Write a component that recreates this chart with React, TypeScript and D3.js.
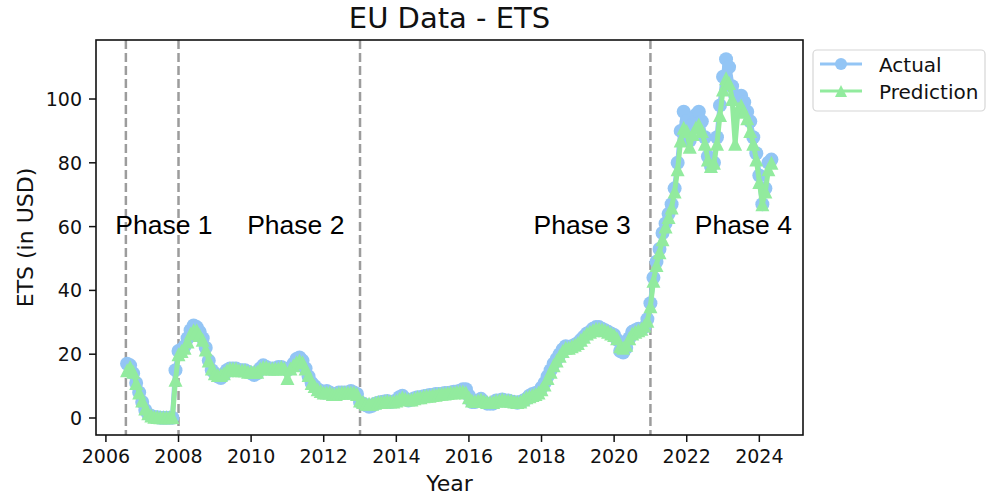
import React from 'react';
import * as d3 from 'd3';

const W = 986;
const H = 498;

const title = 'EU Data - ETS';
const xLabel = 'Year';
const yLabel = 'ETS (in USD)';
const xTicks = [2006, 2008, 2010, 2012, 2014, 2016, 2018, 2020, 2022, 2024];
const yTicks = [0, 20, 40, 60, 80, 100];
const seriesNames = ['Actual', 'Prediction'];

// monthly observations starting August 2006
const firstYear = 2006;
const firstMonth = 8;

const actual = [
  17, 16.5, 14, 11, 8,
  5, 2.5, 1.2, 0.6, 0.3, 0.2, 0.1, 0.1, 0.1, 0.1, 0.1, 15,
  21, 21.5, 22.5, 25, 27.5, 29, 28.5, 27, 25, 22, 18, 15,
  14, 13, 12.5, 13.5, 15, 15.5, 15.5, 15.5, 15, 15, 15, 14.5,
  14, 13.5, 14, 15.5, 16.5, 16, 15.5, 15.5, 15.5, 16, 16, 15.5,
  15, 15.5, 17, 18.5, 19, 18, 15.5, 13, 11, 10, 9, 8.5,
  8, 8.5, 8, 7.5, 7.5, 8, 8, 8, 8, 8.5, 8, 7.5,
  5, 4.5, 4, 3.5, 3.8, 4.5, 4.8, 5, 5.2, 5.3, 5, 5.2,
  5.5, 6.5, 7, 6, 5.5, 5.8, 6.2, 6.5, 6.5, 6.8, 7, 7.2,
  7.2, 7.5, 7.5, 7.6, 7.8, 7.8, 8, 8.2, 8.3, 8.5, 9, 9,
  7, 5, 5, 5.5, 6, 5, 4.5, 4.5, 4.5, 5.5, 5.5, 5.8,
  5.5, 5.5, 5.2, 5, 4.8, 5, 5.5, 6, 7, 7.5, 7.8, 8.2,
  9.5, 11, 13, 15, 17, 18.5, 20, 21.5, 22.5, 22, 22.5, 23,
  23.5, 24.5, 25.5, 26.5, 27, 28, 28.5, 28.5, 28, 27.5, 27, 26.5,
  26, 24.5, 21, 20.5, 22, 25, 27, 27.5, 28, 28, 28.5, 31,
  36, 44, 49, 53, 58, 61, 64, 67, 72, 80, 90, 96,
  93, 87, 92, 95, 96, 93, 88, 82, 79, 80, 88, 98,
  107, 112.5, 110, 104, 101, 100, 101, 99, 96, 93, 88, 83,
  76, 67, 72, 80, 81,
];

const prediction = [
  15, 16, 14.5, 11, 8,
  5.5, 3, 1.5, 0.8, 0.4, 0.3, 0.2, 0.2, 0.2, 0.2, 0.3, 12,
  20, 21, 22, 24, 26.5, 27.5, 27.5, 26, 24.5, 21.5, 18, 15.5,
  14, 13.5, 13.5, 14, 15, 15.5, 15.5, 15.5, 15, 15, 15, 14.5,
  14.5, 14.5, 14.5, 15.5, 16, 16, 15.5, 15.5, 15.5, 15.5, 16, 15.5,
  12.5, 15.5, 16.5, 17.5, 18, 17.5, 15.5, 13.5, 11, 10, 9, 8.5,
  8, 8, 8, 7.5, 7.5, 7.8, 8, 8, 8, 8, 8, 7.5,
  5.5, 5, 4.5, 4.5, 4.5, 4.8, 5, 5, 5.2, 5.3, 5.2, 5.2,
  5.5, 6, 6.5, 6, 5.8, 5.8, 6.2, 6.5, 6.5, 6.8, 7, 7,
  7.2, 7.3, 7.5, 7.6, 7.7, 7.8, 8, 8, 8.2, 8.3, 8.3, 8,
  6.5, 5.5, 5.3, 5.5, 5.8, 5.3, 5, 5, 5, 5.5, 5.5, 5.8,
  5.6, 5.5, 5.4, 5.2, 5, 5.2, 5.8, 6.5, 6.8, 7.2, 7.5, 8,
  9, 10.5, 12.5, 14.5, 16.5, 18, 19.5, 21, 22, 22, 22.5, 23,
  23.5, 24.5, 25.5, 26.5, 27, 27.5, 28, 28, 27.8, 27.5, 27, 26.5,
  26, 25, 22.5, 22, 23, 25, 26.5, 27, 27.5, 28, 29, 30.5,
  35, 43, 48, 52, 56, 60, 63, 66, 71, 78, 87, 91,
  90, 85, 89, 91, 92, 90, 86, 81, 79, 80, 86, 95,
  103, 106.5, 105, 100, 86, 97, 98, 96, 94, 90, 86, 81,
  74, 67, 71, 78, 80,
];

const phaseBoundaries = [2006.55, 2008.0, 2013.0, 2021.0];
const phaseNames = ['Phase 1', 'Phase 2', 'Phase 3', 'Phase 4'];
const phaseLabelX = [2007.6, 2011.23, 2019.12, 2023.56];
const phaseLabelY = 60;

const BLUE = '#93c5f5';
const GREEN = '#92eb9e';
const FONT = 'DejaVu Sans, sans-serif';

const dates = actual.map((_, i) => firstYear + (firstMonth - 1 + i) / 12);

const MS = 14;
const triPath = (s: number) => `M0,${-s / 2}L${s / 2},${s / 2}L${-s / 2},${s / 2}Z`;

export default function App() {
  const left = 96, right = 803, top = 40, bottom = 435;
  const x = d3.scaleLinear().domain([2005.727, 2025.203]).range([left, right]);
  const y = d3.scaleLinear().domain([-5.33, 118.5]).range([bottom, top]);
  const line = d3.line<number>().x((_, i) => x(dates[i])).y((v) => y(v));

  return (
    <svg width={W} height={H} style={{ position: 'absolute', left: 0, top: 0, background: '#fff' }}>
      <rect x={0} y={0} width={W} height={H} fill="#fff" />
      <text x={(left + right) / 2} y={28} textAnchor="middle" fontFamily={FONT} fontSize={29} fill="#111">
        {title}
      </text>
      <defs>
        <clipPath id="plotclip">
          <rect x={left} y={top} width={right - left} height={bottom - top} />
        </clipPath>
      </defs>
      {phaseBoundaries.map((b, i) => (
        <line key={i} x1={x(b)} x2={x(b)} y1={top} y2={bottom} stroke="#9c9c9c" strokeWidth={2.5} strokeDasharray="9,4" />
      ))}
      <g clipPath="url(#plotclip)">
        <path d={line(actual) || ''} fill="none" stroke={BLUE} strokeWidth={5} strokeLinejoin="round" />
        {actual.map((v, i) => (
          <circle key={i} cx={x(dates[i])} cy={y(v)} r={MS / 2} fill={BLUE} />
        ))}
        <path d={line(prediction) || ''} fill="none" stroke={GREEN} strokeWidth={5} strokeLinejoin="round" />
        {prediction.map((v, i) => (
          <path key={i} d={triPath(MS)} transform={`translate(${x(dates[i])},${y(v)})`} fill={GREEN} />
        ))}
      </g>
      {phaseNames.map((n, i) => (
        <text key={n} x={x(phaseLabelX[i])} y={y(phaseLabelY) + 7} textAnchor="middle" fontFamily="Liberation Sans, Arial, sans-serif" fontSize={26.5} fill="#000">
          {n}
        </text>
      ))}
      <rect x={left} y={top} width={right - left} height={bottom - top} fill="none" stroke="#111" strokeWidth={1.6} />
      {xTicks.map((t) => (
        <g key={t}>
          <line x1={x(t)} x2={x(t)} y1={bottom} y2={bottom + 7} stroke="#111" strokeWidth={1.5} />
          <text x={x(t)} y={463} textAnchor="middle" fontFamily={FONT} fontSize={19} fill="#111">
            {t}
          </text>
        </g>
      ))}
      {yTicks.map((t) => (
        <g key={t}>
          <line x1={left - 7} x2={left} y1={y(t)} y2={y(t)} stroke="#111" strokeWidth={1.5} />
          <text x={82} y={y(t) + 7} textAnchor="end" fontFamily={FONT} fontSize={19} fill="#111">
            {t}
          </text>
        </g>
      ))}
      <text x={(left + right) / 2} y={491} textAnchor="middle" fontFamily={FONT} fontSize={22} fill="#111">
        {xLabel}
      </text>
      <text transform={`translate(33,${(top + bottom) / 2}) rotate(-90)`} textAnchor="middle" fontFamily={FONT} fontSize={22} fill="#111">
        {yLabel}
      </text>
      <rect x={813} y={50} width={172} height={61} rx={4} fill="#fff" stroke="#d6d6d6" strokeWidth={1.2} />
      <line x1={820} x2={862} y1={64} y2={64} stroke={BLUE} strokeWidth={2.8} />
      <circle cx={841} cy={64} r={6} fill={BLUE} />
      <text x={879} y={72} fontFamily={FONT} fontSize={20} fill="#111">{seriesNames[0]}</text>
      <line x1={820} x2={862} y1={91} y2={91} stroke={GREEN} strokeWidth={2.8} />
      <path d={triPath(12)} transform="translate(841,91)" fill={GREEN} />
      <text x={879} y={99} fontFamily={FONT} fontSize={20} fill="#111">{seriesNames[1]}</text>
    </svg>
  );
}
